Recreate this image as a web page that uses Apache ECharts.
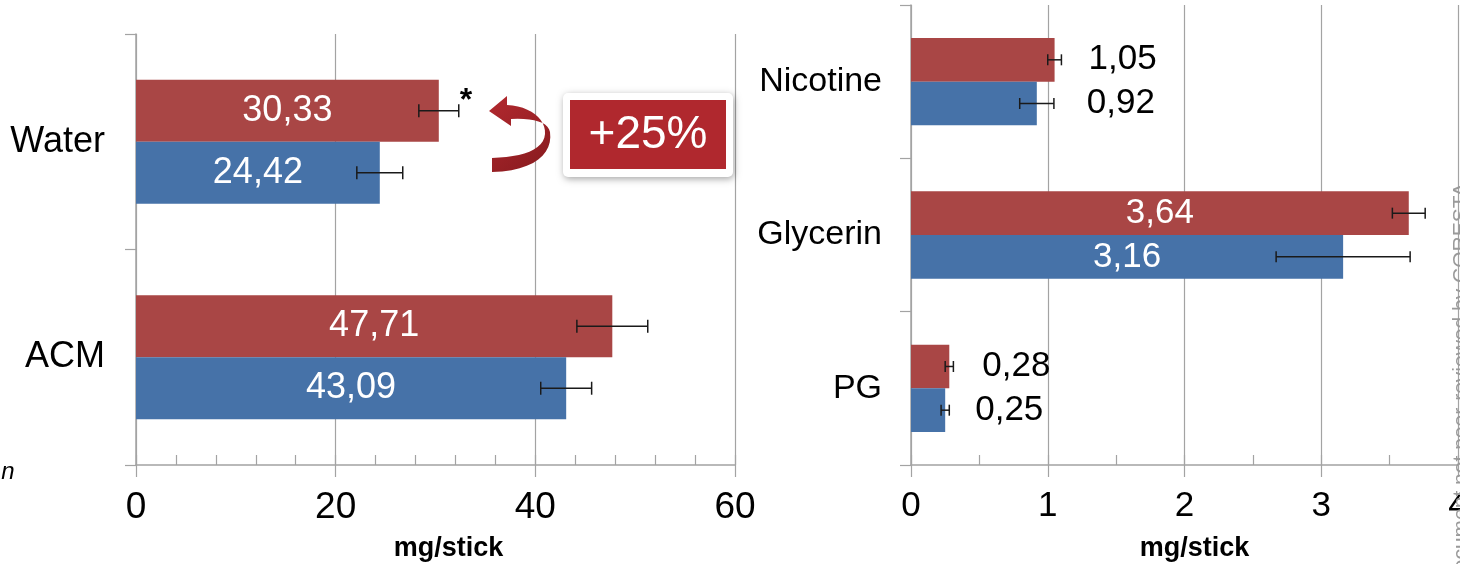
<!DOCTYPE html>
<html>
<head>
<meta charset="utf-8">
<script src="https://cdn.jsdelivr.net/npm/echarts@6/dist/echarts.min.js"></script>
<style>
html,body{margin:0;padding:0;background:#fff;}
#chart{width:1460px;height:564px;}
</style>
</head>
<body>
<div id="chart"></div>
<script>
// ---- data ----
const leftCategories = ['Water', 'ACM'];
const leftRed = [30.33, 47.71];
const leftRedErr = [2.0, 3.55];
const leftBlue = [24.42, 43.09];
const leftBlueErr = [2.3, 2.55];

const rightCategories = ['Nicotine', 'Glycerin', 'PG'];
const rightRed = [1.05, 3.64, 0.28];
const rightRedErr = [0.05, 0.12, 0.03];
const rightBlue = [0.92, 3.16, 0.25];
const rightBlueErr = [0.125, 0.49, 0.03];

const leftTicks = { min: 0, max: 60, interval: 20 };
const rightTicks = { min: 0, max: 4, interval: 1 };
const axisTitle = 'mg/stick';
const annotationText = '+25%';
const watermarkText = 'Document not peer-reviewed by CORESTA';

// ---- styles ----
const FONT = "'Liberation Sans', Arial, sans-serif";
const RED = '#A94645';
const BLUE = '#4672A8';
const GRAY = '#A3A3A3';
const leftGap = 0.425, rightGap = 0.43;
const rightLabelInside = [false, true, false];
const rightRedDist = [34, 0, 33];
const rightBlueDist = [50, 0, 30];

const fmt = v => v.toFixed(2).replace('.', ',');

function errItems(vals, errs) {
  return vals.map((v, i) => [i, v - errs[i], v + errs[i]]);
}
function errSeries(xi, yi, data, sign, gap, n, cap) {
  return {
    type: 'custom', xAxisIndex: xi, yAxisIndex: yi, z: 10,
    data: data,
    encode: { x: [1, 2], y: 0 },
    renderItem: function (params, api) {
      const cat = api.value(0);
      const p1 = api.coord([api.value(1), cat]);
      const p2 = api.coord([api.value(2), cat]);
      const band = params.coordSys.height / n;
      const bw = band * (1 - gap) / 2;
      const y = p1[1] + sign * bw / 2;
      const st = { stroke: '#1a1a1a', lineWidth: 1.5 };
      return {
        type: 'group',
        children: [
          { type: 'line', shape: { x1: p1[0], y1: y, x2: p2[0], y2: y }, style: st },
          { type: 'line', shape: { x1: p1[0], y1: y - cap / 2, x2: p1[0], y2: y + cap / 2 }, style: st },
          { type: 'line', shape: { x1: p2[0], y1: y - cap / 2, x2: p2[0], y2: y + cap / 2 }, style: st }
        ]
      };
    }
  };
}

function valueAxes(gi, t, minorSplit, nameShift) {
  return [
    {
      gridIndex: gi, type: 'value', min: t.min, max: t.max, interval: t.interval,
      axisLine: { show: true, lineStyle: { color: GRAY, width: 1.5 } },
      axisTick: { show: true, length: 12, lineStyle: { color: GRAY, width: 1.2 } },
      axisLabel: { fontSize: gi === 0 ? 37 : 35, color: '#000', fontFamily: FONT, margin: 24 },
      splitLine: { show: true, lineStyle: { color: GRAY, width: 1.2 } },
      name: axisTitle, nameLocation: 'middle', nameGap: 70,
      nameTextStyle: { fontSize: 27, fontWeight: 'bold', color: '#000', fontFamily: FONT, padding: [0, 0, 0, nameShift] }
    },
    {
      gridIndex: gi, type: 'value', min: t.min, max: t.max, interval: t.interval, position: 'bottom',
      axisLine: { show: false },
      axisTick: { show: true, inside: true, length: 10, lineStyle: { color: GRAY, width: 1.2 } },
      minorTick: { show: true, splitNumber: minorSplit, length: 10, lineStyle: { color: GRAY, width: 1.2 } },
      axisLabel: { show: false }, splitLine: { show: false }
    }
  ];
}
function catAxis(gi, cats, fs, margin) {
  return {
    gridIndex: gi, type: 'category', data: cats, inverse: true,
    axisLine: { show: true, lineStyle: { color: GRAY, width: 1.5 } },
    axisTick: { show: true, length: 11, lineStyle: { color: GRAY, width: 1.2 } },
    axisLabel: { fontSize: fs, color: '#000', fontFamily: FONT, margin: margin },
    splitLine: { show: false }
  };
}

const insideLabel = (fs) => ({ show: true, position: 'inside', color: '#fff', fontSize: fs, fontFamily: FONT, formatter: p => fmt(p.value) });

const rightItems = (vals, dists) => vals.map((v, i) => ({
  value: v,
  label: rightLabelInside[i]
    ? { show: true, position: 'inside', color: '#fff', fontSize: 35, fontFamily: FONT, formatter: p => fmt(p.value) }
    : { show: true, position: 'right', distance: dists[i], color: '#000', fontSize: 35, fontFamily: FONT, formatter: p => fmt(p.value) }
}));

// curved arrow outline, sampled from cubic bezier segments
function cubic(p0, p1, p2, p3, steps) {
  const out = [];
  for (let k = 1; k <= steps; k++) {
    const t = k / steps, u = 1 - t;
    out.push([
      u*u*u*p0[0] + 3*u*u*t*p1[0] + 3*u*t*t*p2[0] + t*t*t*p3[0],
      u*u*u*p0[1] + 3*u*u*t*p1[1] + 3*u*t*t*p2[1] + t*t*t*p3[1]
    ]);
  }
  return out;
}
const arrowPts = [[489, 111], [507, 96], [507, 105]]
  .concat(cubic([507, 105], [530, 106], [546, 119], [545, 134], 12))
  .concat(cubic([545, 134], [544, 150], [522, 157], [492, 158], 12))
  .concat([[492, 172]])
  .concat(cubic([492, 172], [535, 171], [553, 153], [550, 132], 12))
  .concat(cubic([550, 132], [548, 122], [534, 118], [511, 119], 10))
  .concat([[511, 126]]);
const arrowFill = { type: 'linear', x: 0, y: 0, x2: 1, y2: 1, colorStops: [{ offset: 0, color: '#B3292F' }, { offset: 1, color: '#861A1E' }] };

const option = {
  animation: false,
  backgroundColor: '#fff',
  grid: [
    { left: 136, top: 34, width: 599, height: 431, outerBoundsMode: 'none' },
    { left: 911, top: 5, width: 547, height: 460, outerBoundsMode: 'none' }
  ],
  xAxis: [].concat(valueAxes(0, leftTicks, 5, 26), valueAxes(1, rightTicks, 2, 20)),
  yAxis: [catAxis(0, leftCategories, 36, 31), catAxis(1, rightCategories, 34, 29)],
  series: [
    { type: 'bar', name: 'red', xAxisIndex: 0, yAxisIndex: 0, data: leftRed, itemStyle: { color: RED }, barGap: '0%', barCategoryGap: (leftGap * 100) + '%', label: insideLabel(36) },
    { type: 'bar', name: 'blue', xAxisIndex: 0, yAxisIndex: 0, data: leftBlue, itemStyle: { color: BLUE }, barGap: '0%', barCategoryGap: (leftGap * 100) + '%', label: insideLabel(36) },
    { type: 'bar', name: 'red', xAxisIndex: 2, yAxisIndex: 1, data: rightItems(rightRed, rightRedDist), itemStyle: { color: RED }, barGap: '0%', barCategoryGap: (rightGap * 100) + '%' },
    { type: 'bar', name: 'blue', xAxisIndex: 2, yAxisIndex: 1, data: rightItems(rightBlue, rightBlueDist), itemStyle: { color: BLUE }, barGap: '0%', barCategoryGap: (rightGap * 100) + '%' },
    errSeries(0, 0, errItems(leftRed, leftRedErr), -1, leftGap, leftCategories.length, 13),
    errSeries(0, 0, errItems(leftBlue, leftBlueErr), 1, leftGap, leftCategories.length, 13),
    errSeries(2, 1, errItems(rightRed, rightRedErr), -1, rightGap, rightCategories.length, 11),
    errSeries(2, 1, errItems(rightBlue, rightBlueErr), 1, rightGap, rightCategories.length, 11)
  ],
  graphic: [
    { type: 'polygon', shape: { points: arrowPts }, z: 20, style: { fill: arrowFill } },
    { type: 'rect', shape: { x: 563, y: 93, width: 170, height: 84, r: 5 }, z: 20,
      style: { fill: '#fff', shadowBlur: 7, shadowColor: 'rgba(0,0,0,0.35)', shadowOffsetX: 1, shadowOffsetY: 2 } },
    { type: 'rect', shape: { x: 570, y: 100, width: 156, height: 69 }, z: 21, style: { fill: '#B0282E' } },
    { type: 'text', x: 648, y: 135, z: 22, style: { text: annotationText, fill: '#fff', font: '46px ' + FONT, align: 'center', verticalAlign: 'middle' } },
    { type: 'text', x: 466, y: 101, z: 22, style: { text: '*', fill: '#000', font: 'bold 32px ' + FONT, align: 'center', verticalAlign: 'middle' } },
    { type: 'text', x: 8, y: 472, z: 22, style: { text: 'n', fill: '#000', font: 'italic 24px ' + FONT, align: 'center', verticalAlign: 'middle' } },
    { type: 'text', x: 1472, y: 183, rotation: Math.PI / 2, z: 22, style: { text: watermarkText, fill: '#9A9A9A', font: '21px ' + FONT, align: 'right', verticalAlign: 'bottom' } }
  ]
};

const chart = echarts.init(document.getElementById('chart'), null, { renderer: 'canvas' });
chart.setOption(option);
</script>
</body>
</html>
